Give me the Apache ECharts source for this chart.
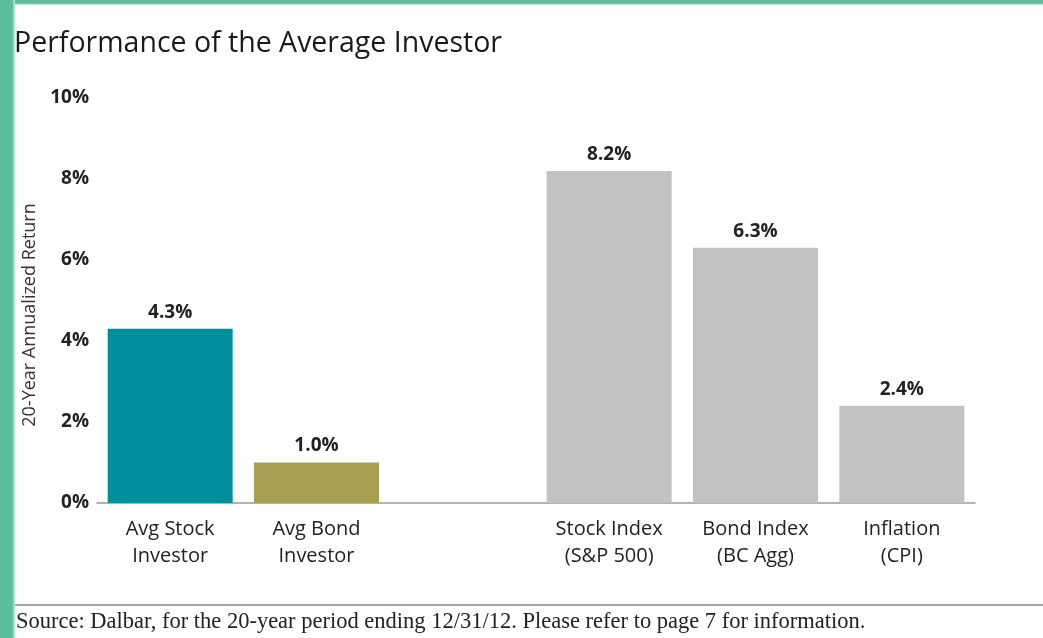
<!DOCTYPE html>
<html>
<head>
<meta charset="utf-8">
<script src="https://cdn.jsdelivr.net/npm/echarts@6/dist/echarts.min.js"></script>
<style>
html,body{margin:0;padding:0;background:#fff;}
#c{width:1043px;height:638px;}
</style>
</head>
<body>
<div id="c"></div>
<script>
const categories = ['Avg Stock\nInvestor', 'Avg Bond\nInvestor', '', 'Stock Index\n(S&P 500)', 'Bond Index\n(BC Agg)', 'Inflation\n(CPI)'];
const values = [4.3, 1.0, null, 8.2, 6.3, 2.4];
const barColors = ['#008F9C', '#A99F50', '#C1C2C4', '#C1C2C4', '#C1C2C4', '#C1C2C4'];
const yTicks = [0, 2, 4, 6, 8, 10];
const titleText = 'Performance of the Average Investor';
const yAxisTitle = '20-Year Annualized Return';
const sourceText = 'Source: Dalbar, for the 20-year period ending 12/31/12. Please refer to page 7 for information.';

const chart = echarts.init(document.getElementById('c'), null, {renderer: 'canvas'});
const sans = '"Open Sans", "Noto Sans", sans-serif';
chart.setOption({
  backgroundColor: '#fff',
  animation: false,
  grid: {left: 97, right: 68, top: 98, bottom: 135},
  xAxis: {
    type: 'category',
    data: categories,
    axisLine: {show: true, lineStyle: {color: '#999', width: 1.5}},
    axisTick: {show: false},
    axisLabel: {color: '#222', fontFamily: sans, fontSize: 20, lineHeight: 27, margin: 13, interval: 0}
  },
  yAxis: {
    type: 'value',
    min: yTicks[0],
    max: yTicks[yTicks.length - 1],
    interval: 2,
    axisLine: {show: false},
    axisTick: {show: false},
    splitLine: {show: false},
    axisLabel: {color: '#222', fontFamily: sans, fontWeight: 'bold', fontSize: 19, margin: 8, formatter: v => v + '%'}
  },
  series: [{
    type: 'bar',
    barWidth: 125,
    data: values.map((v, i) => ({value: v, itemStyle: {color: barColors[i]}})),
    label: {
      show: true, position: 'top', distance: 7,
      color: '#222', fontFamily: sans, fontWeight: 'bold', fontSize: 19,
      formatter: p => p.value == null ? '' : p.value.toFixed(1) + '%'
    }
  }],
  graphic: [
    {type: 'rect', shape: {x: 0, y: 0, width: 1043, height: 5}, style: {fill: new echarts.graphic.LinearGradient(0, 0, 0, 1, [{offset: 0, color: '#5ABD9C'}, {offset: 0.6, color: '#5ABD9C'}, {offset: 1, color: '#DFF2EB'}])}, z: 10},
    {type: 'rect', shape: {x: 0, y: 0, width: 15, height: 638}, style: {fill: new echarts.graphic.LinearGradient(0, 0, 1, 0, [{offset: 0, color: '#5ABD9C'}, {offset: 0.8, color: '#5ABD9C'}, {offset: 1, color: '#CDEBE0'}])}, z: 11},
    {type: 'text', left: 14, top: 29, style: {text: titleText, fill: '#1a1a1a', font: '28.5px "Open Sans", sans-serif'}},
    {type: 'text', x: 30, y: 315, rotation: Math.PI / 2, style: {text: yAxisTitle, fill: '#333', font: '18px "Open Sans", sans-serif', textAlign: 'center', textVerticalAlign: 'middle'}},
    {type: 'line', shape: {x1: 15, y1: 605, x2: 1043, y2: 605}, style: {stroke: '#888', lineWidth: 1.5}},
    {type: 'text', left: 16, top: 611, style: {text: sourceText, fill: '#222', font: '22.5px "Liberation Serif", serif'}}
  ]
});
</script>
</body>
</html>
